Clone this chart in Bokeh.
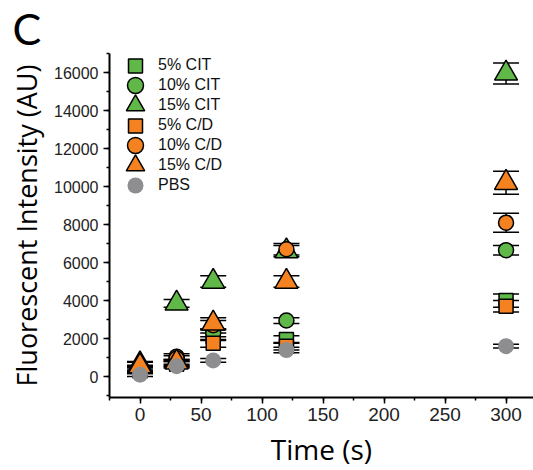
from bokeh.plotting import figure
from bokeh.models import (ColumnDataSource, Whisker, TeeHead, Legend, LegendItem,
                          Range1d, SingleIntervalTicker)
from bokeh.embed import file_html
from bokeh.resources import INLINE

# ---- data ----
times = [0, 30, 60, 120, 300]

cit5 = [350, 700, 2100, 1950, 4000]
cit5_err = [150, 150, 200, 200, 350]
cit10 = [450, 1050, 2300, 2950, 6650]
cit10_err = [150, 150, 200, 150, 250]
cit15 = [650, 3850, 5000, 6600, 15950]
cit15_err = [150, 200, 300, 300, 550]
cd5 = [300, 650, 1750, 1600, 3700]
cd5_err = [150, 150, 200, 200, 300]
cd10 = [400, 950, 2700, 6700, 8100]
cd10_err = [150, 150, 250, 300, 500]
cd15 = [550, 750, 2800, 5000, 10200]
cd15_err = [200, 150, 300, 300, 600]
pbs = [100, 550, 850, 1400, 1600]
pbs_err = [100, 100, 100, 150, 100]

labels = ["5% CIT", "10% CIT", "15% CIT", "5% C/D", "10% C/D", "15% C/D", "PBS"]

GREEN = "#5fb847"
ORANGE = "#f58220"
GRAY = "#8e8e90"

# name, values, errors, marker, colour, plot size, legend glyph box
series = [
    (labels[0], cit5, cit5_err, "square", GREEN, 14, 35),
    (labels[1], cit10, cit10_err, "circle", GREEN, 15, 40),
    (labels[2], cit15, cit15_err, "triangle", GREEN, 23, 46),
    (labels[3], cd5, cd5_err, "square", ORANGE, 14, 35),
    (labels[4], cd10, cd10_err, "circle", ORANGE, 15, 40),
    (labels[5], cd15, cd15_err, "triangle", ORANGE, 23, 46),
    (labels[6], pbs, pbs_err, "circle", GRAY, 16, 40),
]

FRAME_H = 344
p = figure(width=533, height=470, output_backend="svg", toolbar_location=None,
           x_range=Range1d(-25, 322.5), y_range=Range1d(-1100, 17000),
           min_border_left=109, min_border_right=0, min_border_top=53,
           min_border_bottom=73)
p.outline_line_color = None
p.xgrid.visible = False
p.ygrid.visible = False
p.background_fill_color = "white"

# panel letter
p.title.text = "C"
p.title.align = "left"
p.title.offset = -97
p.title.text_font = "Lato"
p.title.text_font_size = "43px"
p.title.text_font_style = "normal"
p.title.text_color = "black"
p.title.standoff = 0

ROW = 20
FIRST_ROW_CENTER = 12  # px below frame top
GLYPH_W = 46

for i, (name, vals, errs, marker, color, size, box) in enumerate(series):
    src = ColumnDataSource(dict(
        x=times, y=vals,
        upper=[v + e for v, e in zip(vals, errs)],
        lower=[v - e for v, e in zip(vals, errs)],
    ))
    outline = None if name == "PBS" else "black"
    r = p.scatter("x", "y", source=src, marker=marker, size=size,
                  fill_color=color, line_color=outline, line_width=1.5)
    w = Whisker(source=src, base="x", upper="upper", lower="lower",
                dimension="height", line_color="black", line_width=1.5,
                upper_head=TeeHead(size=26, line_color="black", line_width=1.5),
                lower_head=TeeHead(size=26, line_color="black", line_width=1.5))
    p.add_layout(w)

    center_from_top = FIRST_ROW_CENTER + ROW * i
    y_loc = FRAME_H - center_from_top - box / 2
    lg = Legend(items=[LegendItem(label=name, renderers=[r])],
                location=(3, y_loc), orientation="vertical",
                glyph_height=box, glyph_width=GLYPH_W, label_height=ROW,
                padding=0, margin=0, label_standoff=0, spacing=0,
                label_text_font="Liberation Sans", label_text_font_size="16px",
                label_text_color="#111111",
                border_line_color=None, background_fill_alpha=0)
    p.add_layout(lg, "center")

# axes
p.xaxis.ticker = SingleIntervalTicker(interval=50, num_minor_ticks=2)
p.yaxis.ticker = SingleIntervalTicker(interval=2000, num_minor_ticks=2)
for ax in (p.xaxis[0], p.yaxis[0]):
    ax.axis_line_width = 2
    ax.axis_line_color = "black"
    ax.major_tick_line_width = 1.5
    ax.minor_tick_line_width = 1.5
    ax.major_tick_line_color = "black"
    ax.minor_tick_line_color = "black"
    ax.major_tick_in = 0
    ax.major_tick_out = 6
    ax.minor_tick_in = 0
    ax.minor_tick_out = 3
    ax.major_label_text_font = "Liberation Sans"
    ax.major_label_text_color = "#222222"
    ax.axis_label_text_font = "Open Sans"
    ax.axis_label_text_font_style = "normal"
    ax.axis_label_text_color = "black"

p.xaxis.axis_label_text_font_size = "28px"
p.yaxis.axis_label_text_font_size = "27px"
p.xaxis.major_label_text_font_size = "19px"
p.yaxis.major_label_text_font_size = "16px"
p.xaxis.major_label_standoff = 4
p.yaxis.major_label_standoff = 5
p.xaxis.axis_label = "Time (s)"
p.yaxis.axis_label = "Fluorescent Intensity (AU)"
p.xaxis.axis_label_standoff = 6
p.yaxis.axis_label_standoff = 6

open("out.html", "w").write(file_html(p, INLINE))
